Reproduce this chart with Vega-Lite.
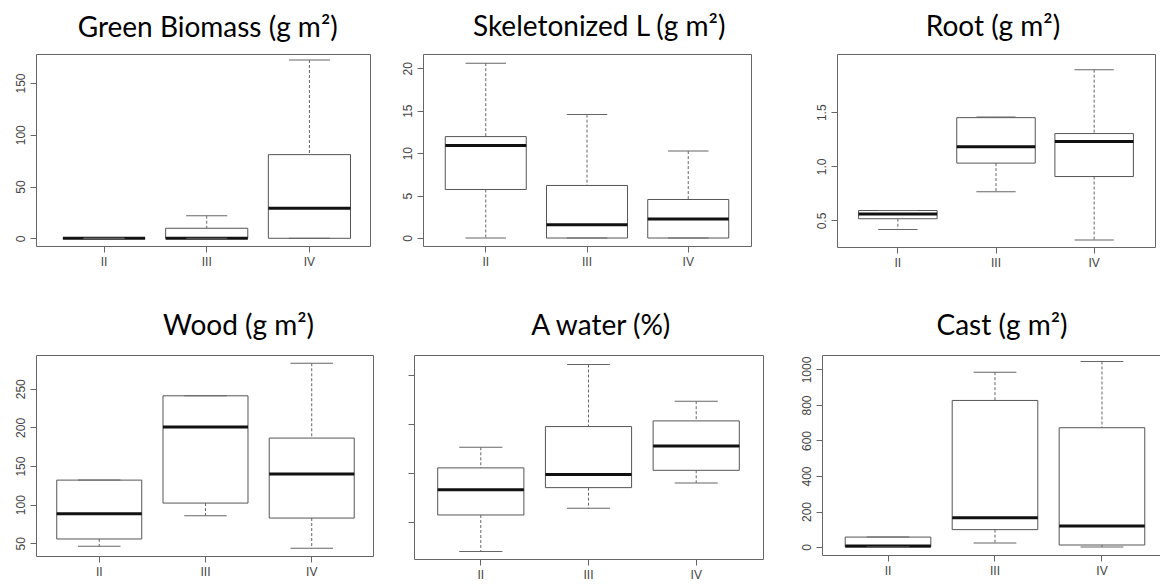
{
  "$schema": "https://vega.github.io/schema/vega-lite/v6.json",
  "background": "white",
  "padding": {"top": 13, "left": 0, "right": 0, "bottom": 0},
  "spacing": 43,
  "vconcat": [
    {
      "spacing": 10,
      "hconcat": [
        {
          "width": 334, "height": 192,
          "title": {"text": "Green Biomass (g m²)", "dx": 4.7, "offset": 11},
          "data": {"values": [
            {"group": "II", "min": 0, "q1": 0, "median": 0, "q3": 0, "max": 0},
            {"group": "III", "min": 0, "q1": 0, "median": 0, "q3": 9.7, "max": 21.8},
            {"group": "IV", "min": 0, "q1": 0, "median": 29, "q3": 80.8, "max": 172.2}
          ]},
          "encoding": {"x": {"field": "group", "type": "nominal", "sort": null, "scale": {"paddingInner": 0.2, "paddingOuter": 0.226, "align": 0.58}, "axis": {"title": null}}},
          "layer": [
            {"mark": {"type": "rule", "color": "#666", "strokeDash": [3, 2]}, "encoding": {"y": {"field": "max", "type": "quantitative", "scale": {"domain": [-7.44, 178.0], "nice": false, "zero": false}, "axis": {"title": null, "values": [0, 50, 100, 150], "minExtent": 35}}, "y2": {"field": "q3"}}},
            {"mark": {"type": "rule", "color": "#666", "strokeDash": [3, 2]}, "encoding": {"y": {"field": "q1", "type": "quantitative", "scale": {"domain": [-7.44, 178.0], "nice": false, "zero": false}, "axis": {"title": null, "values": [0, 50, 100, 150], "minExtent": 35}}, "y2": {"field": "min"}}},
            {"mark": {"type": "bar", "fill": "#fff", "stroke": "#555", "strokeWidth": 1}, "encoding": {"y": {"field": "q1", "type": "quantitative", "scale": {"domain": [-7.44, 178.0], "nice": false, "zero": false}, "axis": {"title": null, "values": [0, 50, 100, 150], "minExtent": 35}}, "y2": {"field": "q3"}}},
            {"mark": {"type": "tick", "color": "#111", "opacity": 1, "thickness": 3, "size": 82.2}, "encoding": {"y": {"field": "median", "type": "quantitative", "scale": {"domain": [-7.44, 178.0], "nice": false, "zero": false}, "axis": {"title": null, "values": [0, 50, 100, 150], "minExtent": 35}}}},
            {"mark": {"type": "tick", "color": "#666", "opacity": 1, "thickness": 1, "size": 41.1}, "encoding": {"y": {"field": "max", "type": "quantitative", "scale": {"domain": [-7.44, 178.0], "nice": false, "zero": false}, "axis": {"title": null, "values": [0, 50, 100, 150], "minExtent": 35}}}},
            {"mark": {"type": "tick", "color": "#666", "opacity": 1, "thickness": 1, "size": 41.1}, "encoding": {"y": {"field": "min", "type": "quantitative", "scale": {"domain": [-7.44, 178.0], "nice": false, "zero": false}, "axis": {"title": null, "values": [0, 50, 100, 150], "minExtent": 35}}}}
          ]
        },
        {
          "width": 328, "height": 192,
          "title": {"text": "Skeletonized L (g m²)", "dx": 12.2, "offset": 12},
          "data": {"values": [
            {"group": "II", "min": 0, "q1": 5.72, "median": 10.9, "q3": 11.95, "max": 20.6},
            {"group": "III", "min": 0, "q1": 0, "median": 1.56, "q3": 6.19, "max": 14.54},
            {"group": "IV", "min": 0, "q1": 0, "median": 2.24, "q3": 4.54, "max": 10.24}
          ]},
          "encoding": {"x": {"field": "group", "type": "nominal", "sort": null, "scale": {"paddingInner": 0.2, "paddingOuter": 0.22}, "axis": {"title": null}}},
          "layer": [
            {"mark": {"type": "rule", "color": "#666", "strokeDash": [3, 2]}, "encoding": {"y": {"field": "max", "type": "quantitative", "scale": {"domain": [-0.94, 21.68], "nice": false, "zero": false}, "axis": {"title": null, "values": [0, 5, 10, 15, 20], "minExtent": 41}}, "y2": {"field": "q3"}}},
            {"mark": {"type": "rule", "color": "#666", "strokeDash": [3, 2]}, "encoding": {"y": {"field": "q1", "type": "quantitative", "scale": {"domain": [-0.94, 21.68], "nice": false, "zero": false}, "axis": {"title": null, "values": [0, 5, 10, 15, 20], "minExtent": 41}}, "y2": {"field": "min"}}},
            {"mark": {"type": "bar", "fill": "#fff", "stroke": "#555", "strokeWidth": 1}, "encoding": {"y": {"field": "q1", "type": "quantitative", "scale": {"domain": [-0.94, 21.68], "nice": false, "zero": false}, "axis": {"title": null, "values": [0, 5, 10, 15, 20], "minExtent": 41}}, "y2": {"field": "q3"}}},
            {"mark": {"type": "tick", "color": "#111", "opacity": 1, "thickness": 3, "size": 81}, "encoding": {"y": {"field": "median", "type": "quantitative", "scale": {"domain": [-0.94, 21.68], "nice": false, "zero": false}, "axis": {"title": null, "values": [0, 5, 10, 15, 20], "minExtent": 41}}}},
            {"mark": {"type": "tick", "color": "#666", "opacity": 1, "thickness": 1, "size": 40.5}, "encoding": {"y": {"field": "max", "type": "quantitative", "scale": {"domain": [-0.94, 21.68], "nice": false, "zero": false}, "axis": {"title": null, "values": [0, 5, 10, 15, 20], "minExtent": 41}}}},
            {"mark": {"type": "tick", "color": "#666", "opacity": 1, "thickness": 1, "size": 40.5}, "encoding": {"y": {"field": "min", "type": "quantitative", "scale": {"domain": [-0.94, 21.68], "nice": false, "zero": false}, "axis": {"title": null, "values": [0, 5, 10, 15, 20], "minExtent": 41}}}}
          ]
        },
        {
          "width": 318, "height": 193,
          "title": {"text": "Root (g m²)", "dx": -3, "offset": 12},
          "data": {"values": [
            {"group": "II", "min": 0.417, "q1": 0.516, "median": 0.559, "q3": 0.592, "max": 0.592},
            {"group": "III", "min": 0.765, "q1": 1.03, "median": 1.18, "q3": 1.45, "max": 1.455},
            {"group": "IV", "min": 0.319, "q1": 0.906, "median": 1.229, "q3": 1.303, "max": 1.893}
          ]},
          "encoding": {"x": {"field": "group", "type": "nominal", "sort": null, "scale": {"paddingInner": 0.2, "paddingOuter": 0.22}, "axis": {"title": null}}},
          "layer": [
            {"mark": {"type": "rule", "color": "#666", "strokeDash": [3, 2]}, "encoding": {"y": {"field": "max", "type": "quantitative", "scale": {"domain": [0.255, 2.038], "nice": false, "zero": false}, "axis": {"title": null, "values": [0.5, 1, 1.5], "format": ".1f", "minExtent": 74}}, "y2": {"field": "q3"}}},
            {"mark": {"type": "rule", "color": "#666", "strokeDash": [3, 2]}, "encoding": {"y": {"field": "q1", "type": "quantitative", "scale": {"domain": [0.255, 2.038], "nice": false, "zero": false}, "axis": {"title": null, "values": [0.5, 1, 1.5], "format": ".1f", "minExtent": 74}}, "y2": {"field": "min"}}},
            {"mark": {"type": "bar", "fill": "#fff", "stroke": "#555", "strokeWidth": 1}, "encoding": {"y": {"field": "q1", "type": "quantitative", "scale": {"domain": [0.255, 2.038], "nice": false, "zero": false}, "axis": {"title": null, "values": [0.5, 1, 1.5], "format": ".1f", "minExtent": 74}}, "y2": {"field": "q3"}}},
            {"mark": {"type": "tick", "color": "#111", "opacity": 1, "thickness": 3, "size": 78.5}, "encoding": {"y": {"field": "median", "type": "quantitative", "scale": {"domain": [0.255, 2.038], "nice": false, "zero": false}, "axis": {"title": null, "values": [0.5, 1, 1.5], "format": ".1f", "minExtent": 74}}}},
            {"mark": {"type": "tick", "color": "#666", "opacity": 1, "thickness": 1, "size": 39.3}, "encoding": {"y": {"field": "max", "type": "quantitative", "scale": {"domain": [0.255, 2.038], "nice": false, "zero": false}, "axis": {"title": null, "values": [0.5, 1, 1.5], "format": ".1f", "minExtent": 74}}}},
            {"mark": {"type": "tick", "color": "#666", "opacity": 1, "thickness": 1, "size": 39.3}, "encoding": {"y": {"field": "min", "type": "quantitative", "scale": {"domain": [0.255, 2.038], "nice": false, "zero": false}, "axis": {"title": null, "values": [0.5, 1, 1.5], "format": ".1f", "minExtent": 74}}}}
          ]
        }
      ]
    },
    {
      "spacing": 10,
      "hconcat": [
        {
          "width": 337, "height": 201,
          "title": {"text": "Wood (g m²)", "dx": 34, "offset": 14.5},
          "data": {"values": [
            {"group": "II", "min": 46.1, "q1": 55.6, "median": 88.4, "q3": 131.8, "max": 131.8},
            {"group": "III", "min": 85.8, "q1": 102.1, "median": 200.4, "q3": 240.9, "max": 240.9},
            {"group": "IV", "min": 43.5, "q1": 82.7, "median": 139.6, "q3": 186.2, "max": 283.0}
          ]},
          "encoding": {"x": {"field": "group", "type": "nominal", "sort": null, "scale": {"paddingInner": 0.2, "paddingOuter": 0.186, "align": 0.525}, "axis": {"title": null}}},
          "layer": [
            {"mark": {"type": "rule", "color": "#666", "strokeDash": [3, 2]}, "encoding": {"y": {"field": "max", "type": "quantitative", "scale": {"domain": [33.6, 293.7], "nice": false, "zero": false}, "axis": {"title": null, "values": [50, 100, 150, 200, 250], "minExtent": 35}}, "y2": {"field": "q3"}}},
            {"mark": {"type": "rule", "color": "#666", "strokeDash": [3, 2]}, "encoding": {"y": {"field": "q1", "type": "quantitative", "scale": {"domain": [33.6, 293.7], "nice": false, "zero": false}, "axis": {"title": null, "values": [50, 100, 150, 200, 250], "minExtent": 35}}, "y2": {"field": "min"}}},
            {"mark": {"type": "bar", "fill": "#fff", "stroke": "#555", "strokeWidth": 1}, "encoding": {"y": {"field": "q1", "type": "quantitative", "scale": {"domain": [33.6, 293.7], "nice": false, "zero": false}, "axis": {"title": null, "values": [50, 100, 150, 200, 250], "minExtent": 35}}, "y2": {"field": "q3"}}},
            {"mark": {"type": "tick", "color": "#111", "opacity": 1, "thickness": 3, "size": 85}, "encoding": {"y": {"field": "median", "type": "quantitative", "scale": {"domain": [33.6, 293.7], "nice": false, "zero": false}, "axis": {"title": null, "values": [50, 100, 150, 200, 250], "minExtent": 35}}}},
            {"mark": {"type": "tick", "color": "#666", "opacity": 1, "thickness": 1, "size": 42.5}, "encoding": {"y": {"field": "max", "type": "quantitative", "scale": {"domain": [33.6, 293.7], "nice": false, "zero": false}, "axis": {"title": null, "values": [50, 100, 150, 200, 250], "minExtent": 35}}}},
            {"mark": {"type": "tick", "color": "#666", "opacity": 1, "thickness": 1, "size": 42.5}, "encoding": {"y": {"field": "min", "type": "quantitative", "scale": {"domain": [33.6, 293.7], "nice": false, "zero": false}, "axis": {"title": null, "values": [50, 100, 150, 200, 250], "minExtent": 35}}}}
          ]
        },
        {
          "width": 349, "height": 204,
          "title": {"text": "A water (%)", "dx": 12.3, "offset": 14.5},
          "data": {"values": [
            {"group": "II", "min": 4.1, "q1": 11.5, "median": 16.6, "q3": 21.06, "max": 25.24},
            {"group": "III", "min": 12.85, "q1": 17.05, "median": 19.7, "q3": 29.45, "max": 42.05},
            {"group": "IV", "min": 18.0, "q1": 20.57, "median": 25.5, "q3": 30.6, "max": 34.6}
          ]},
          "encoding": {"x": {"field": "group", "type": "nominal", "sort": null, "scale": {"paddingInner": 0.2, "paddingOuter": 0.22}, "axis": {"title": null}}},
          "layer": [
            {"mark": {"type": "rule", "color": "#666", "strokeDash": [3, 2]}, "encoding": {"y": {"field": "max", "type": "quantitative", "scale": {"domain": [2.56, 43.98], "nice": false, "zero": false}, "axis": {"title": null, "values": [10, 20, 30, 40], "labels": false, "minExtent": 29}}, "y2": {"field": "q3"}}},
            {"mark": {"type": "rule", "color": "#666", "strokeDash": [3, 2]}, "encoding": {"y": {"field": "q1", "type": "quantitative", "scale": {"domain": [2.56, 43.98], "nice": false, "zero": false}, "axis": {"title": null, "values": [10, 20, 30, 40], "labels": false, "minExtent": 29}}, "y2": {"field": "min"}}},
            {"mark": {"type": "bar", "fill": "#fff", "stroke": "#555", "strokeWidth": 1}, "encoding": {"y": {"field": "q1", "type": "quantitative", "scale": {"domain": [2.56, 43.98], "nice": false, "zero": false}, "axis": {"title": null, "values": [10, 20, 30, 40], "labels": false, "minExtent": 29}}, "y2": {"field": "q3"}}},
            {"mark": {"type": "tick", "color": "#111", "opacity": 1, "thickness": 3, "size": 86.2}, "encoding": {"y": {"field": "median", "type": "quantitative", "scale": {"domain": [2.56, 43.98], "nice": false, "zero": false}, "axis": {"title": null, "values": [10, 20, 30, 40], "labels": false, "minExtent": 29}}}},
            {"mark": {"type": "tick", "color": "#666", "opacity": 1, "thickness": 1, "size": 43.1}, "encoding": {"y": {"field": "max", "type": "quantitative", "scale": {"domain": [2.56, 43.98], "nice": false, "zero": false}, "axis": {"title": null, "values": [10, 20, 30, 40], "labels": false, "minExtent": 29}}}},
            {"mark": {"type": "tick", "color": "#666", "opacity": 1, "thickness": 1, "size": 43.1}, "encoding": {"y": {"field": "min", "type": "quantitative", "scale": {"domain": [2.56, 43.98], "nice": false, "zero": false}, "axis": {"title": null, "values": [10, 20, 30, 40], "labels": false, "minExtent": 29}}}}
          ]
        },
        {
          "width": 340, "height": 200,
          "title": {"text": "Cast (g m²)", "dx": 10, "offset": 14.5},
          "data": {"values": [
            {"group": "II", "min": 0, "q1": 0, "median": 5, "q3": 56, "max": 56},
            {"group": "III", "min": 22.5, "q1": 97.9, "median": 165.4, "q3": 825.6, "max": 984.8},
            {"group": "IV", "min": 0, "q1": 11.3, "median": 118.2, "q3": 671.9, "max": 1045}
          ]},
          "encoding": {"x": {"field": "group", "type": "nominal", "sort": null, "scale": {"paddingInner": 0.2, "paddingOuter": 0.189, "align": 0.574}, "axis": {"title": null}}},
          "layer": [
            {"mark": {"type": "rule", "color": "#666", "strokeDash": [3, 2]}, "encoding": {"y": {"field": "max", "type": "quantitative", "scale": {"domain": [-45, 1081.6], "nice": false, "zero": false}, "axis": {"title": null, "values": [0, 200, 400, 600, 800, 1000], "format": "d", "minExtent": 47}}, "y2": {"field": "q3"}}},
            {"mark": {"type": "rule", "color": "#666", "strokeDash": [3, 2]}, "encoding": {"y": {"field": "q1", "type": "quantitative", "scale": {"domain": [-45, 1081.6], "nice": false, "zero": false}, "axis": {"title": null, "values": [0, 200, 400, 600, 800, 1000], "format": "d", "minExtent": 47}}, "y2": {"field": "min"}}},
            {"mark": {"type": "bar", "fill": "#fff", "stroke": "#555", "strokeWidth": 1}, "encoding": {"y": {"field": "q1", "type": "quantitative", "scale": {"domain": [-45, 1081.6], "nice": false, "zero": false}, "axis": {"title": null, "values": [0, 200, 400, 600, 800, 1000], "format": "d", "minExtent": 47}}, "y2": {"field": "q3"}}},
            {"mark": {"type": "tick", "color": "#111", "opacity": 1, "thickness": 3, "size": 85.6}, "encoding": {"y": {"field": "median", "type": "quantitative", "scale": {"domain": [-45, 1081.6], "nice": false, "zero": false}, "axis": {"title": null, "values": [0, 200, 400, 600, 800, 1000], "format": "d", "minExtent": 47}}}},
            {"mark": {"type": "tick", "color": "#666", "opacity": 1, "thickness": 1, "size": 42.8}, "encoding": {"y": {"field": "max", "type": "quantitative", "scale": {"domain": [-45, 1081.6], "nice": false, "zero": false}, "axis": {"title": null, "values": [0, 200, 400, 600, 800, 1000], "format": "d", "minExtent": 47}}}},
            {"mark": {"type": "tick", "color": "#666", "opacity": 1, "thickness": 1, "size": 42.8}, "encoding": {"y": {"field": "min", "type": "quantitative", "scale": {"domain": [-45, 1081.6], "nice": false, "zero": false}, "axis": {"title": null, "values": [0, 200, 400, 600, 800, 1000], "format": "d", "minExtent": 47}}}}
          ]
        }
      ]
    }
  ],
  "config": {
    "view": {"stroke": "#666", "strokeWidth": 1},
    "axisX": {"domain": false, "grid": false, "ticks": true, "tickSize": 6, "tickColor": "#666", "labelAngle": 0, "labelPadding": 4, "labelFont": "Liberation Sans Narrow, Liberation Sans, Arial", "labelFontSize": 12, "labelColor": "#444", "bandPosition": 0.5},
    "axisY": {"domain": false, "grid": false, "ticks": true, "tickSize": 6, "tickColor": "#666", "labelAngle": -90, "labelAlign": "center", "labelBaseline": "bottom", "labelPadding": 3, "labelFont": "Liberation Sans, Arial", "labelFontSize": 12, "labelColor": "#444"},
    "title": {"font": "Lato", "fontSize": 28, "fontWeight": "normal", "color": "#000", "frame": "group", "anchor": "middle"}
  }
}
